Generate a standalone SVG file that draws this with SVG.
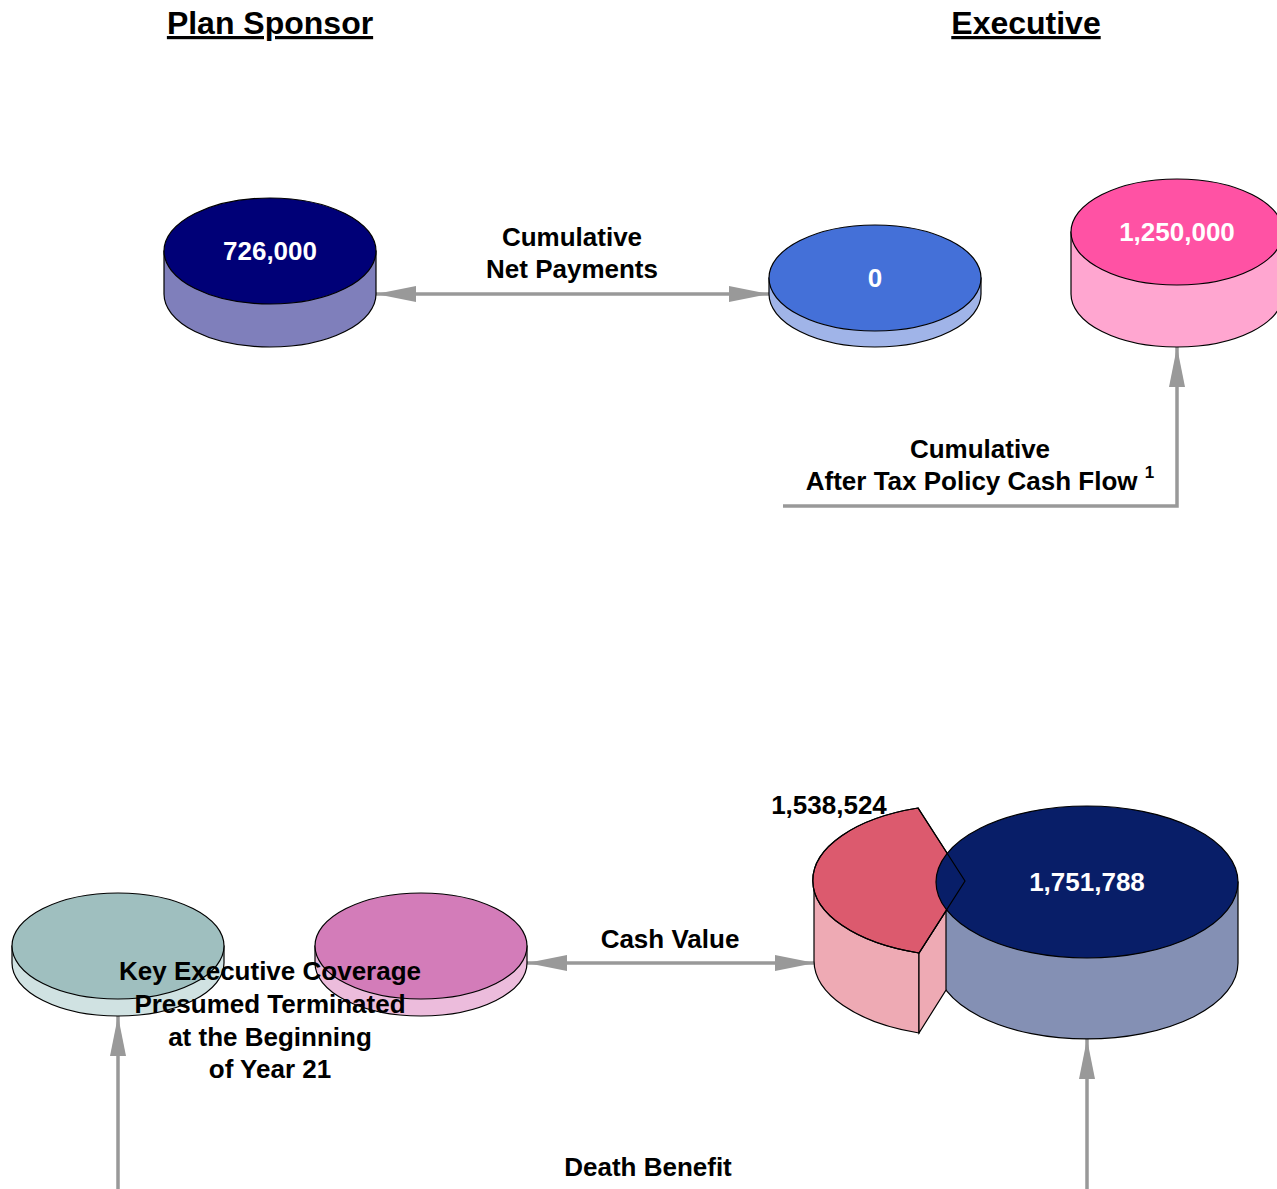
<svg xmlns="http://www.w3.org/2000/svg" width="1277" height="1189" viewBox="0 0 1277 1189">
<style>
text{font-family:"Liberation Sans",Arial,Helvetica,sans-serif;font-weight:bold}
.t{font-size:26px;fill:#000;text-anchor:middle}
.v{font-size:26px;fill:#fff;text-anchor:middle}
.h{font-size:32px;fill:#000;text-anchor:middle;text-decoration:underline}
.s{stroke:#000;stroke-width:1.2}
.c{fill:none;stroke:#999;stroke-width:3.5}
</style>
<defs>
<marker id="ah" viewBox="0 0 40 16" refX="40" refY="8" markerWidth="40" markerHeight="16" markerUnits="userSpaceOnUse" orient="auto-start-reverse">
<path d="M0,0 L40,8 L0,16 Z" fill="#999"/>
</marker>
</defs>
<rect width="1277" height="1189" fill="#fff"/>
<text class="h" x="270" y="34">Plan Sponsor</text>
<text class="h" x="1026" y="34">Executive</text>

<g id="connectors">
<path class="c" d="M376,294 H769" marker-start="url(#ah)" marker-end="url(#ah)"/>
<path class="c" d="M783,506 H1177 V347" marker-end="url(#ah)"/>
<path class="c" d="M527,963 H815" marker-start="url(#ah)" marker-end="url(#ah)"/>
<path class="c" d="M118,1189 V1016" marker-end="url(#ah)"/>
<path class="c" d="M1087,1189 V1039" marker-end="url(#ah)"/>
<text class="t" x="572" y="246">Cumulative</text>
<text class="t" x="572" y="278">Net Payments</text>
<text class="t" x="980" y="458">Cumulative</text>
<text class="t" x="980" y="490">After Tax Policy Cash Flow <tspan font-size="17" dy="-12">1</tspan></text>
<text class="t" x="670" y="948">Cash Value</text>
<text class="t" x="648" y="1176">Death Benefit</text>
</g>

<g id="node-sponsor">
<path class="s" fill="#7f7fbb" d="M164,251 V294 A106,53 0 0 0 376,294 V251 Z"/>
<ellipse class="s" cx="270" cy="251" rx="106" ry="53" fill="#000077"/>
<text class="v" x="270" y="260">726,000</text>
</g>

<g id="node-exec-zero">
<path class="s" fill="#a0b4e8" d="M769,278 V294 A106,53 0 0 0 981,294 V278 Z"/>
<ellipse class="s" cx="875" cy="278" rx="106" ry="53" fill="#4470d8"/>
<text class="v" x="875" y="287">0</text>
</g>

<g id="node-exec-cash">
<path class="s" fill="#ffa6d0" d="M1071,232 V294 A106,53 0 0 0 1283,294 V232 Z"/>
<ellipse class="s" cx="1177" cy="232" rx="106" ry="53" fill="#ff52a4"/>
<text class="v" x="1177" y="241">1,250,000</text>
</g>

<g id="node-teal">
<path class="s" fill="#d0e2e2" d="M12,946 V963 A106,53 0 0 0 224,963 V946 Z"/>
<ellipse class="s" cx="118" cy="946" rx="106" ry="53" fill="#9fbfbf"/>
</g>

<g id="node-pink">
<path class="s" fill="#ecbcdc" d="M315,946 V963 A106,53 0 0 0 527,963 V946 Z"/>
<ellipse class="s" cx="421" cy="946" rx="106" ry="53" fill="#d37cb9"/>
</g>

<g id="label-key">
<text class="t" x="270" y="980">Key Executive Coverage</text>
<text class="t" x="270" y="1013">Presumed Terminated</text>
<text class="t" x="270" y="1046">at the Beginning</text>
<text class="t" x="270" y="1078">of Year 21</text>
</g>

<g id="node-death">
<path class="s" fill="#eeaab4" d="M814,881 V961 A151,76 0 0 0 919,1033 V953 A151,76 0 0 1 814,881 Z"/>
<path class="s" fill="#8490b4" d="M936,882 V963 A151,76 0 0 0 1238,963 V882 Z"/>
<path class="s" fill="#eeaab4" d="M919,953 L946,911 V990 L919,1033 Z"/>
<path class="s" fill="#dc5a6e" d="M965,881 L918,808 A151,76 0 0 0 919,953 Z"/>
<ellipse class="s" cx="1087" cy="882" rx="151" ry="76" fill="#081e68"/>
<path class="s" fill="none" d="M965,881 L918,808 A151,76 0 0 0 919,953 Z"/>
<text class="v" x="1087" y="891">1,751,788</text>
<text class="t" x="829" y="814">1,538,524</text>
</g>
</svg>
